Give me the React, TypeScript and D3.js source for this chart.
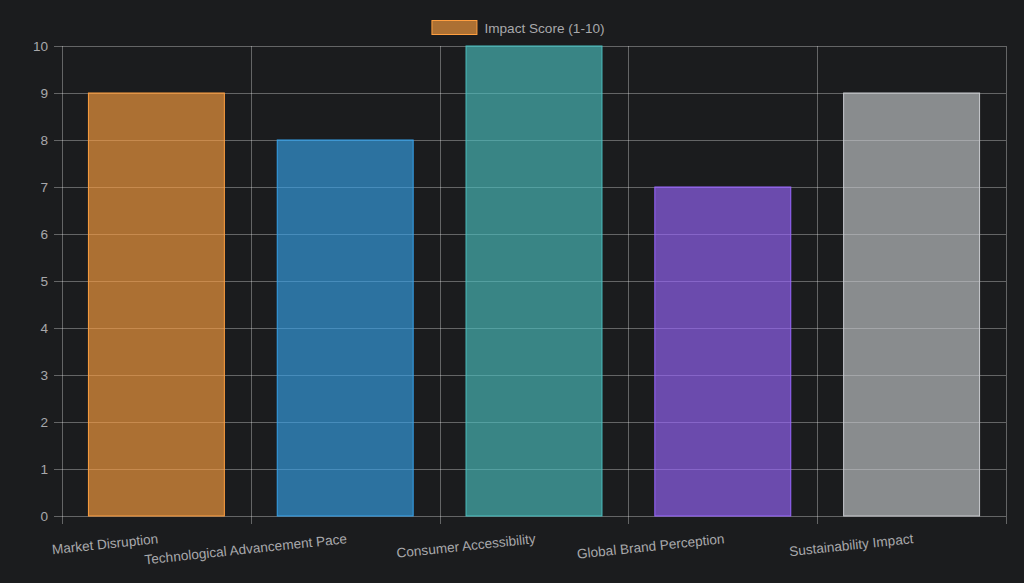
import React, { useEffect, useRef } from 'react';
import * as d3 from 'd3';

const categories = [
  'Market Disruption',
  'Technological Advancement Pace',
  'Consumer Accessibility',
  'Global Brand Perception',
  'Sustainability Impact',
];
const scores = [9, 8, 10, 7, 9];
const seriesName = 'Impact Score (1-10)';
const yTicks = [0, 1, 2, 3, 4, 5, 6, 7, 8, 9, 10];
const borderColors = ['rgb(255,159,64)', 'rgb(54,162,235)', 'rgb(75,192,192)', 'rgb(153,102,255)', 'rgb(201,203,207)'];
const fillColors = ['rgba(255,159,64,0.64)', 'rgba(54,162,235,0.64)', 'rgba(75,192,192,0.64)', 'rgba(153,102,255,0.64)', 'rgba(201,203,207,0.64)'];

const App: React.FC = () => {
  const svgRef = useRef<SVGSVGElement>(null);

  useEffect(() => {
    document.body.style.margin = '0';
    if (!svgRef.current) return;
    const svg = d3.select(svgRef.current);
    svg.selectAll('*').remove();

    const width = 1024;
    const height = 583;
    const left = 62;
    const right = 1006;
    const top = 46;
    const bottom = 516;
    const font = "'Helvetica Neue', Helvetica, Arial, 'Liberation Sans', sans-serif";
    const fontSize = '13.6px';
    const gridColor = 'rgba(255,255,255,0.32)';
    const textColor = '#a8a8ab';

    svg.append('rect').attr('width', width).attr('height', height).attr('fill', '#1b1c1e');

    const x = d3.scaleBand<string>().domain(categories).range([left, right]).padding(0);
    const y = d3.scaleLinear().domain([0, 10]).range([bottom, top]);

    // Grid
    const grid = svg.append('g').attr('shape-rendering', 'crispEdges');
    grid.selectAll('line.h')
      .data(yTicks)
      .enter()
      .append('line')
      .attr('x1', left - 8)
      .attr('x2', right)
      .attr('y1', (d: number) => Math.round(y(d)) + 0.5)
      .attr('y2', (d: number) => Math.round(y(d)) + 0.5)
      .attr('stroke', gridColor);

    const bounds = categories.map((c) => x(c) as number).concat([right]);
    grid.selectAll('line.v')
      .data(bounds)
      .enter()
      .append('line')
      .attr('x1', (d: number) => Math.round(d) + 0.5)
      .attr('x2', (d: number) => Math.round(d) + 0.5)
      .attr('y1', top)
      .attr('y2', bottom + 8)
      .attr('stroke', gridColor);

    // Bars
    const barW = x.bandwidth() * 0.72;
    svg.selectAll('rect.bar')
      .data(scores)
      .enter()
      .append('rect')
      .attr('x', (_d: number, i: number) => (x(categories[i]) as number) + (x.bandwidth() - barW) / 2)
      .attr('y', (d: number) => y(d))
      .attr('width', barW)
      .attr('height', (d: number) => y(0) - y(d))
      .attr('fill', (_d: number, i: number) => fillColors[i])
      .attr('stroke', (_d: number, i: number) => borderColors[i])
      .attr('stroke-width', 1);

    // Y labels
    svg.selectAll('text.y')
      .data(yTicks)
      .enter()
      .append('text')
      .attr('x', left - 14)
      .attr('y', (d: number) => y(d))
      .attr('dy', '0.35em')
      .attr('text-anchor', 'end')
      .attr('fill', textColor)
      .attr('font-family', font)
      .attr('font-size', fontSize)
      .text((d: number) => String(d));

    // X labels (rotated)
    svg.selectAll('text.x')
      .data(categories)
      .enter()
      .append('text')
      .attr('transform', (d: string) => `translate(${(x(d) as number) + x.bandwidth() / 2 + 1},${bottom + 17}) rotate(-6)`)
      .attr('dy', '0.75em')
      .attr('text-anchor', 'end')
      .attr('fill', textColor)
      .attr('font-family', font)
      .attr('font-size', fontSize)
      .text((d: string) => d);

    // Legend
    const legend = svg.append('g');
    const legendText = legend.append('text')
      .attr('y', 28)
      .attr('dy', '0.35em')
      .attr('fill', textColor)
      .attr('font-family', font)
      .attr('font-size', fontSize)
      .text(seriesName);
    const tw = (legendText.node() as SVGTextElement).getComputedTextLength();
    const total = 46 + 7 + tw;
    const lx = width / 2 + 6 - total / 2;
    legend.append('rect')
      .attr('x', lx + 0.5)
      .attr('y', 20.5)
      .attr('width', 45)
      .attr('height', 14)
      .attr('fill', fillColors[0])
      .attr('stroke', borderColors[0]);
    legendText.attr('x', lx + 53);
  }, []);

  return <svg ref={svgRef} width={1024} height={583} style={{ display: 'block' }} />;
};

export default App;
